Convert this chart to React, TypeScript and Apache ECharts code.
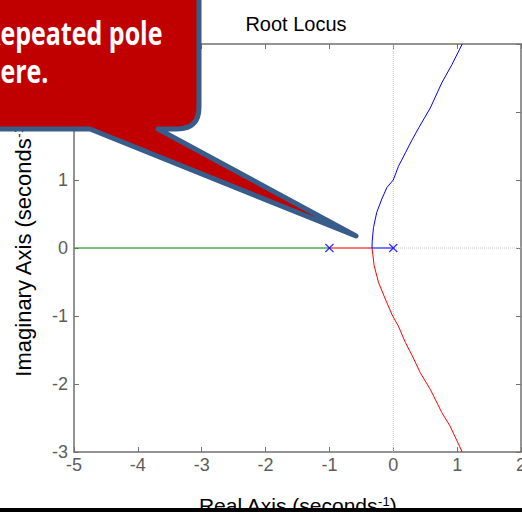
import { useEffect, useRef } from "react";
import * as echarts from "echarts";

const chartTitle = "Root Locus";
const xAxisName = "Real Axis (seconds{sup|-1})";
const yAxisName = "Imaginary Axis (seconds{sup|-1})";
const calloutLines = ["Repeated pole", "here."];

const xRange = [-5, 2];
const yRange = [-3, 3];

const poles: [number, number][] = [[-1, 0], [0, 0]];

const blueBranch: [number, number][] = [
  [0, 0], [-0.333, 0], [-0.33, 0.1], [-0.31, 0.3], [-0.26, 0.52], [-0.18, 0.72],
  [-0.1, 0.89], [0, 1.0], [0.08, 1.2], [0.19, 1.4], [0.3, 1.6], [0.4, 1.77],
  [0.58, 2.06], [0.76, 2.43], [0.92, 2.7], [1.08, 3.0],
];

const redBranch: [number, number][] = [
  [-1, 0], [-0.333, 0], [-0.32, -0.1], [-0.3, -0.26], [-0.23, -0.51], [-0.125, -0.75],
  [-0.02, -0.98], [0.08, -1.15], [0.19, -1.39], [0.3, -1.59], [0.42, -1.83],
  [0.58, -2.08], [0.76, -2.42], [0.89, -2.62], [1.08, -3.0],
];

const greenBranch: [number, number][] = [[-1, 0], [-5, 0]];

const originVertical: [number, number][] = [[0, -3], [0, 3]];
const originHorizontal: [number, number][] = [[-5, 0], [2, 0]];

const CALLOUT_D =
  "M -30 -30 L 199 -30 L 199 107 Q 199 129 177 129 L 158 129 L 356 236 L 90 129 L -30 129 Z";

let registered = false;
function ensureShape() {
  if (registered) return;
  registered = true;
  echarts.graphic.registerShape("callout", echarts.graphic.extendPath(CALLOUT_D, {}) as any);
}

const FONT = "'Liberation Sans', Arial, sans-serif";
const AXIS_COLOR = "#707070";
const LABEL_COLOR = "#5c5c5c";

export default function App() {
  const ref = useRef<HTMLDivElement>(null);

  useEffect(() => {
    if (!ref.current) return;
    ensureShape();
    const chart = echarts.init(ref.current, undefined, { renderer: "svg" });

    const axisLine = { show: true, onZero: false, lineStyle: { color: AXIS_COLOR, width: 1.5 } };
    const axisTick = { show: true, inside: true, length: 5, lineStyle: { color: AXIS_COLOR, width: 1 } };

    const lineSeries = (data: [number, number][], color: string, z = 3) => ({
      type: "line" as const,
      data,
      showSymbol: false,
      symbol: "none",
      lineStyle: { color, width: 1 },
      itemStyle: { color },
      silent: true,
      clip: true,
      z,
    });

    const nameStyle = (size: number) => ({
      fontSize: size,
      color: "#000",
      fontFamily: FONT,
      rich: { sup: { fontSize: 13, color: "#000", fontFamily: FONT, verticalAlign: "top" } },
    });

    chart.setOption({
      animation: false,
      backgroundColor: "#ffffff",
      title: {
        text: chartTitle,
        left: 291,
        top: 9,
        textAlign: "center",
        textStyle: { fontSize: 20, fontWeight: "normal", color: "#000", fontFamily: FONT },
      },
      grid: { left: 74, right: 1, top: 44, bottom: 60, containLabel: false, outerBoundsMode: "none" },
      xAxis: [
        {
          type: "value",
          interval: 1,
          position: "bottom",
          min: xRange[0],
          max: xRange[1],
          splitLine: { show: false },
          axisLine,
          axisTick,
          name: xAxisName,
          nameLocation: "middle",
          nameGap: 43,
          nameTextStyle: nameStyle(21),
          axisLabel: { show: true, color: LABEL_COLOR, fontSize: 18, fontFamily: FONT, margin: 4 },
        },
        {
          type: "value",
          interval: 1,
          position: "top",
          min: xRange[0],
          max: xRange[1],
          splitLine: { show: false },
          axisLine,
          axisTick,
          axisLabel: { show: false },
        },
      ],
      yAxis: [
        {
          type: "value",
          interval: 1,
          position: "left",
          min: yRange[0],
          max: yRange[1],
          splitLine: { show: false },
          axisLine,
          axisTick,
          name: yAxisName,
          nameLocation: "middle",
          nameGap: 40,
          nameTextStyle: nameStyle(22),
          axisLabel: { show: true, color: LABEL_COLOR, fontSize: 18, fontFamily: FONT, margin: 6 },
        },
        {
          type: "value",
          interval: 1,
          position: "right",
          min: yRange[0],
          max: yRange[1],
          splitLine: { show: false },
          axisLine,
          axisTick,
          axisLabel: { show: false },
        },
      ],
      series: [
        {
          ...lineSeries(originVertical, "#c4c4c4", 1),
          lineStyle: { color: "#c4c4c4", width: 1, type: [1, 1] },
        },
        {
          ...lineSeries(originHorizontal, "#c4c4c4", 1),
          lineStyle: { color: "#c4c4c4", width: 1, type: [1, 1] },
        },
        lineSeries(greenBranch, "#108c10", 10),
        lineSeries(redBranch, "#ff0000", 10),
        lineSeries(blueBranch, "#0000ff", 10),
        {
          type: "scatter",
          data: poles,
          symbol: "path://M0,1 L1,0 L5,4 L9,0 L10,1 L6,5 L10,9 L9,10 L5,6 L1,10 L0,9 L4,5 Z",
          symbolSize: 9,
          itemStyle: { color: "#0000ff" },
          silent: true,
          z: 12,
        },
      ],
      graphic: [
        {
          type: "callout",
          x: 0,
          y: 0,
          z: 100,
          silent: true,
          style: { fill: "#c00000", stroke: "#385d8a", lineWidth: 5, lineJoin: "round" },
        },
        {
          type: "text",
          x: -16,
          y: 33,
          scaleY: 1.25,
          z: 101,
          silent: true,
          style: {
            text: calloutLines[0],
            fill: "#ffffff",
            font: "bold 25px 'Open Sans', sans-serif",
            verticalAlign: "middle",
            align: "left",
          },
        },
        {
          type: "text",
          x: -16,
          y: 71,
          scaleY: 1.25,
          z: 101,
          silent: true,
          style: {
            text: calloutLines[1],
            fill: "#ffffff",
            font: "bold 25px 'Open Sans', sans-serif",
            verticalAlign: "middle",
            align: "left",
          },
        },
        {
          type: "rect",
          z: 100,
          silent: true,
          shape: { x: 0, y: 508, width: 522, height: 4 },
          style: { fill: "#000000" },
        },
      ],
    } as any);

    return () => chart.dispose();
  }, []);

  return (
    <div
      ref={ref}
      style={{ position: "fixed", left: 0, top: 0, width: 522, height: 512, background: "#fff" }}
    />
  );
}
